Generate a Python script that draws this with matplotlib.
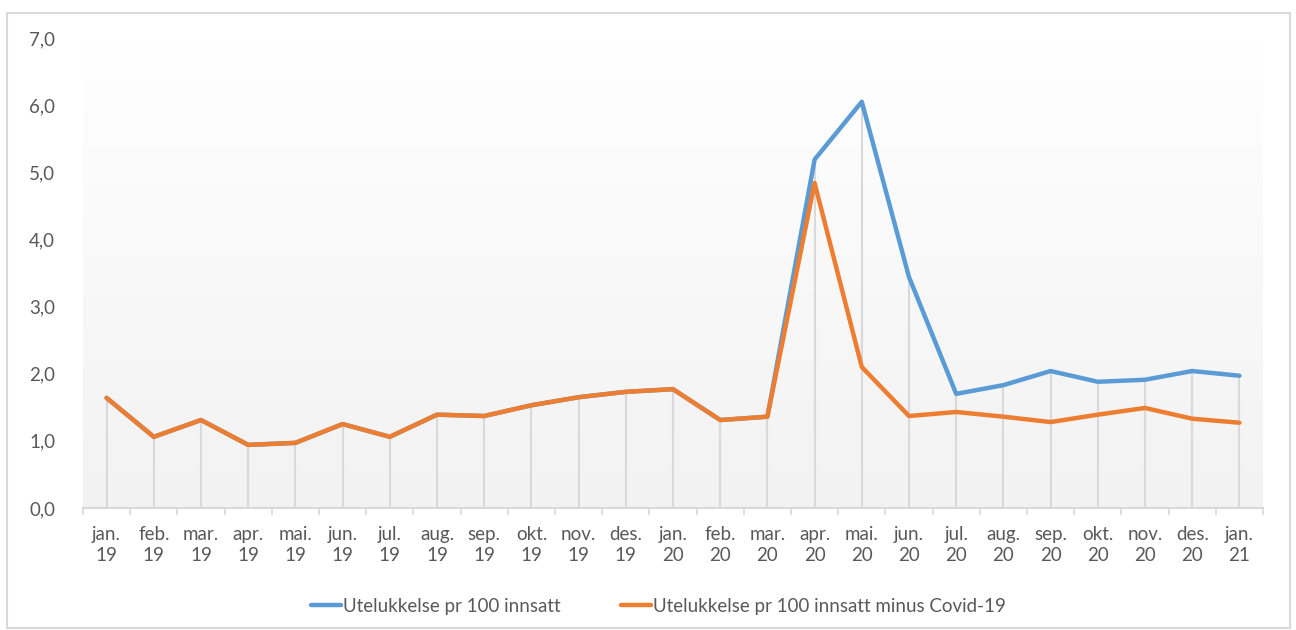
import numpy as np
import matplotlib.pyplot as plt
from matplotlib.patches import Rectangle

months = ["jan.\n19", "feb.\n19", "mar.\n19", "apr.\n19", "mai.\n19", "jun.\n19",
          "jul.\n19", "aug.\n19", "sep.\n19", "okt.\n19", "nov.\n19", "des.\n19",
          "jan.\n20", "feb.\n20", "mar.\n20", "apr.\n20", "mai.\n20", "jun.\n20",
          "jul.\n20", "aug.\n20", "sep.\n20", "okt.\n20", "nov.\n20", "des.\n20",
          "jan.\n21"]
total = [1.64, 1.06, 1.31, 0.94, 0.97, 1.25, 1.06, 1.39, 1.37, 1.53, 1.65, 1.73,
         1.77, 1.31, 1.36, 5.19, 6.05, 3.44, 1.70, 1.83, 2.04, 1.88, 1.91, 2.04, 1.97]
minus_covid = [1.64, 1.06, 1.31, 0.94, 0.97, 1.25, 1.06, 1.39, 1.37, 1.53, 1.65, 1.73,
               1.77, 1.31, 1.36, 4.84, 2.10, 1.37, 1.43, 1.36, 1.28, 1.39, 1.49, 1.33, 1.27]
label_total = "Utelukkelse pr 100 innsatt"
label_minus = "Utelukkelse pr 100 innsatt minus Covid-19"

plt.rcParams["font.family"] = ["Lato", "DejaVu Sans"]
txt = "#595959"
grid = "#d9d9d9"

fig = plt.figure(figsize=(12.96, 6.3), dpi=100)
ax = fig.add_axes([83 / 1296, 122 / 630, 1180 / 1296, 470 / 630])

# gradient background (white at top -> light grey at bottom)
grad = np.linspace(0, 1, 256).reshape(-1, 1)
ax.imshow(grad, extent=[0, 1, 0, 1], transform=ax.transAxes, aspect="auto",
          cmap=plt.matplotlib.colors.LinearSegmentedColormap.from_list(
              "g", ["#ffffff", "#f2f2f2"]), origin="upper", zorder=0)

x = np.arange(len(months))
top = np.maximum(total, minus_covid)
ax.vlines(x, 0, top, color=grid, lw=1.5, zorder=1)

ax.plot(x, total, color="#5b9bd5", lw=3.2, label=label_total, zorder=3,
        solid_capstyle="round", solid_joinstyle="round")
ax.plot(x, minus_covid, color="#ed7d31", lw=3.2, label=label_minus, zorder=4,
        solid_capstyle="round", solid_joinstyle="round")

ax.set_xlim(-0.5, len(months) - 0.5)
ax.set_ylim(0, 7)
ax.set_yticks(range(8))
ax.set_yticklabels([f"{v:.1f}".replace(".", ",") for v in range(8)])
ax.set_xticks(x)
ax.set_xticklabels(months, linespacing=1.25)
ax.set_xticks(np.arange(-0.5, len(months)), minor=True)

for s in ["top", "right", "left"]:
    ax.spines[s].set_visible(False)
ax.spines["bottom"].set_color(grid)
ax.spines["bottom"].set_linewidth(1.5)

ax.tick_params(axis="y", length=0, labelsize=13.5, labelcolor=txt, pad=20)
ax.tick_params(axis="x", which="major", length=0, labelsize=13.5, labelcolor=txt, pad=13)
ax.tick_params(axis="x", which="minor", length=5, width=1.2, color=grid)

fig.legend(loc="center", bbox_to_anchor=(0.508, 0.038), ncol=2, frameon=False,
           fontsize=13.5, labelcolor=txt, handlelength=1.6, handletextpad=0.1,
           columnspacing=3.2)

fig.patches.append(Rectangle((7 / 1296, 2 / 630), 1283 / 1296, 615 / 630,
                             transform=fig.transFigure, fill=False,
                             edgecolor=grid, lw=1.5))

plt.savefig("out.png", dpi=100)
